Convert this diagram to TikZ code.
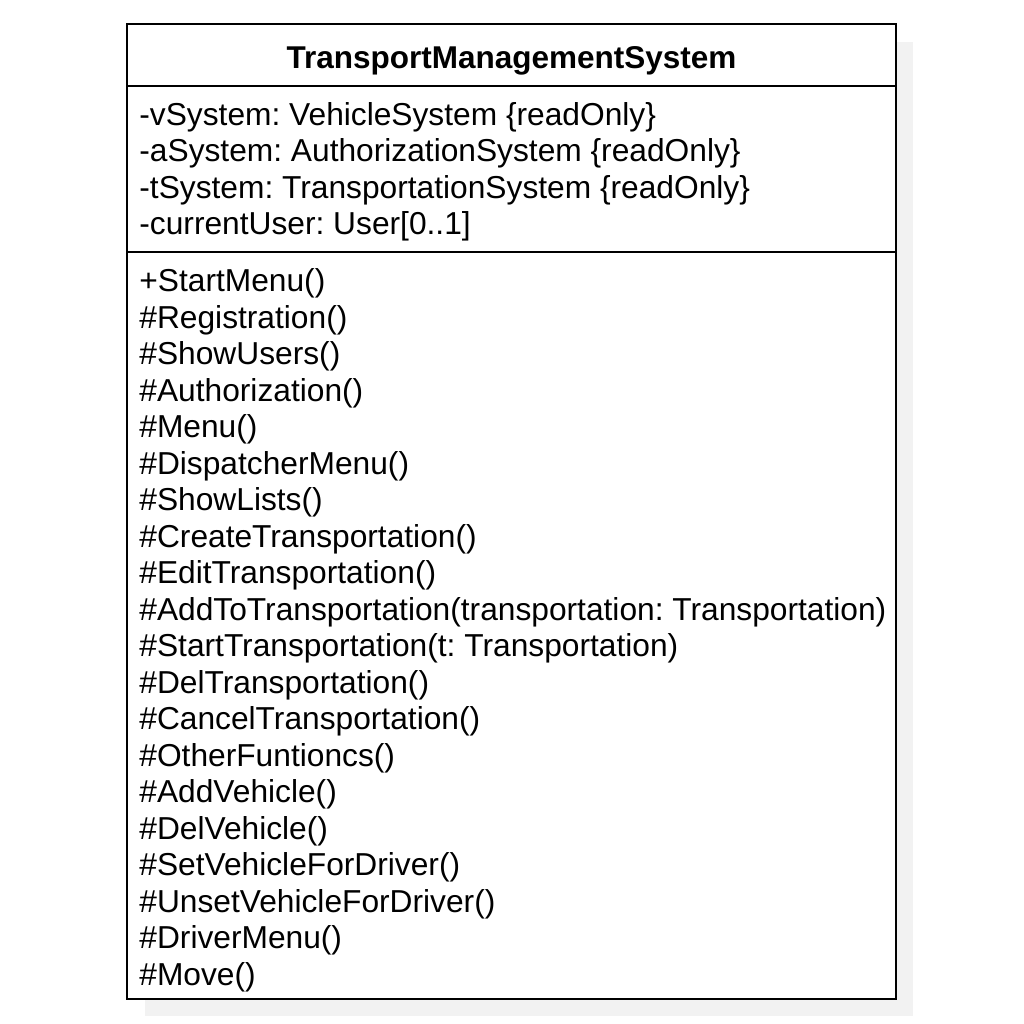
\documentclass[tikz,border=0pt]{standalone}
\usepackage{fontspec}
\setmainfont{Liberation Sans}
\frenchspacing
\definecolor{shadowgray}{HTML}{F2F2F2}
\begin{document}
\begin{tikzpicture}[x=0.5pt,y=-0.5pt,
  boxline/.style={draw=black,line width=1pt},
  member/.style={anchor=base west,inner sep=0pt,font=\fontsize{15.86pt}{18pt}\selectfont\frenchspacing},
  titletext/.style={anchor=base,inner sep=0pt,font=\fontsize{15.75pt}{18pt}\selectfont\bfseries}]
\useasboundingbox (0,0) rectangle (1024,1024);
\fill[shadowgray] (145,42) rectangle (913,1016);
\draw[boxline,fill=white] (127,24) rectangle (896,999);
\coordinate (s1l) at (127,86); \coordinate (s1r) at (896,86);
\coordinate (s2l) at (127,252); \coordinate (s2r) at (896,252);
\draw[boxline] (s1l) -- (s1r);
\draw[boxline] (s2l) -- (s2r);
\node[titletext] (title) at (511.5,68) {TransportManagementSystem};
\node[member] (a1) at (139,125) {-vSystem: VehicleSystem \{readOnly\}};
\node[member] (a2) at (139,161.5) {-aSystem: AuthorizationSystem \{readOnly\}};
\node[member] (a3) at (139,198) {-tSystem: TransportationSystem \{readOnly\}};
\node[member] (a4) at (139,234.5) {-currentUser: User[0..1]};
\foreach \t [count=\i from 0] in {
  +StartMenu(),
  \#Registration(),
  \#ShowUsers(),
  \#Authorization(),
  \#Menu(),
  \#DispatcherMenu(),
  \#ShowLists(),
  \#CreateTransportation(),
  \#EditTransportation(),
  {\#AddToTransportation(transportation: Transportation)},
  {\#StartTransportation(t: Transportation)},
  \#DelTransportation(),
  \#CancelTransportation(),
  \#OtherFuntioncs(),
  \#AddVehicle(),
  \#DelVehicle(),
  \#SetVehicleForDriver(),
  \#UnsetVehicleForDriver(),
  \#DriverMenu(),
  \#Move()}
  \node[member] (m\i) at (139,291.5+36.5*\i) {\t};
\end{tikzpicture}
\end{document}
